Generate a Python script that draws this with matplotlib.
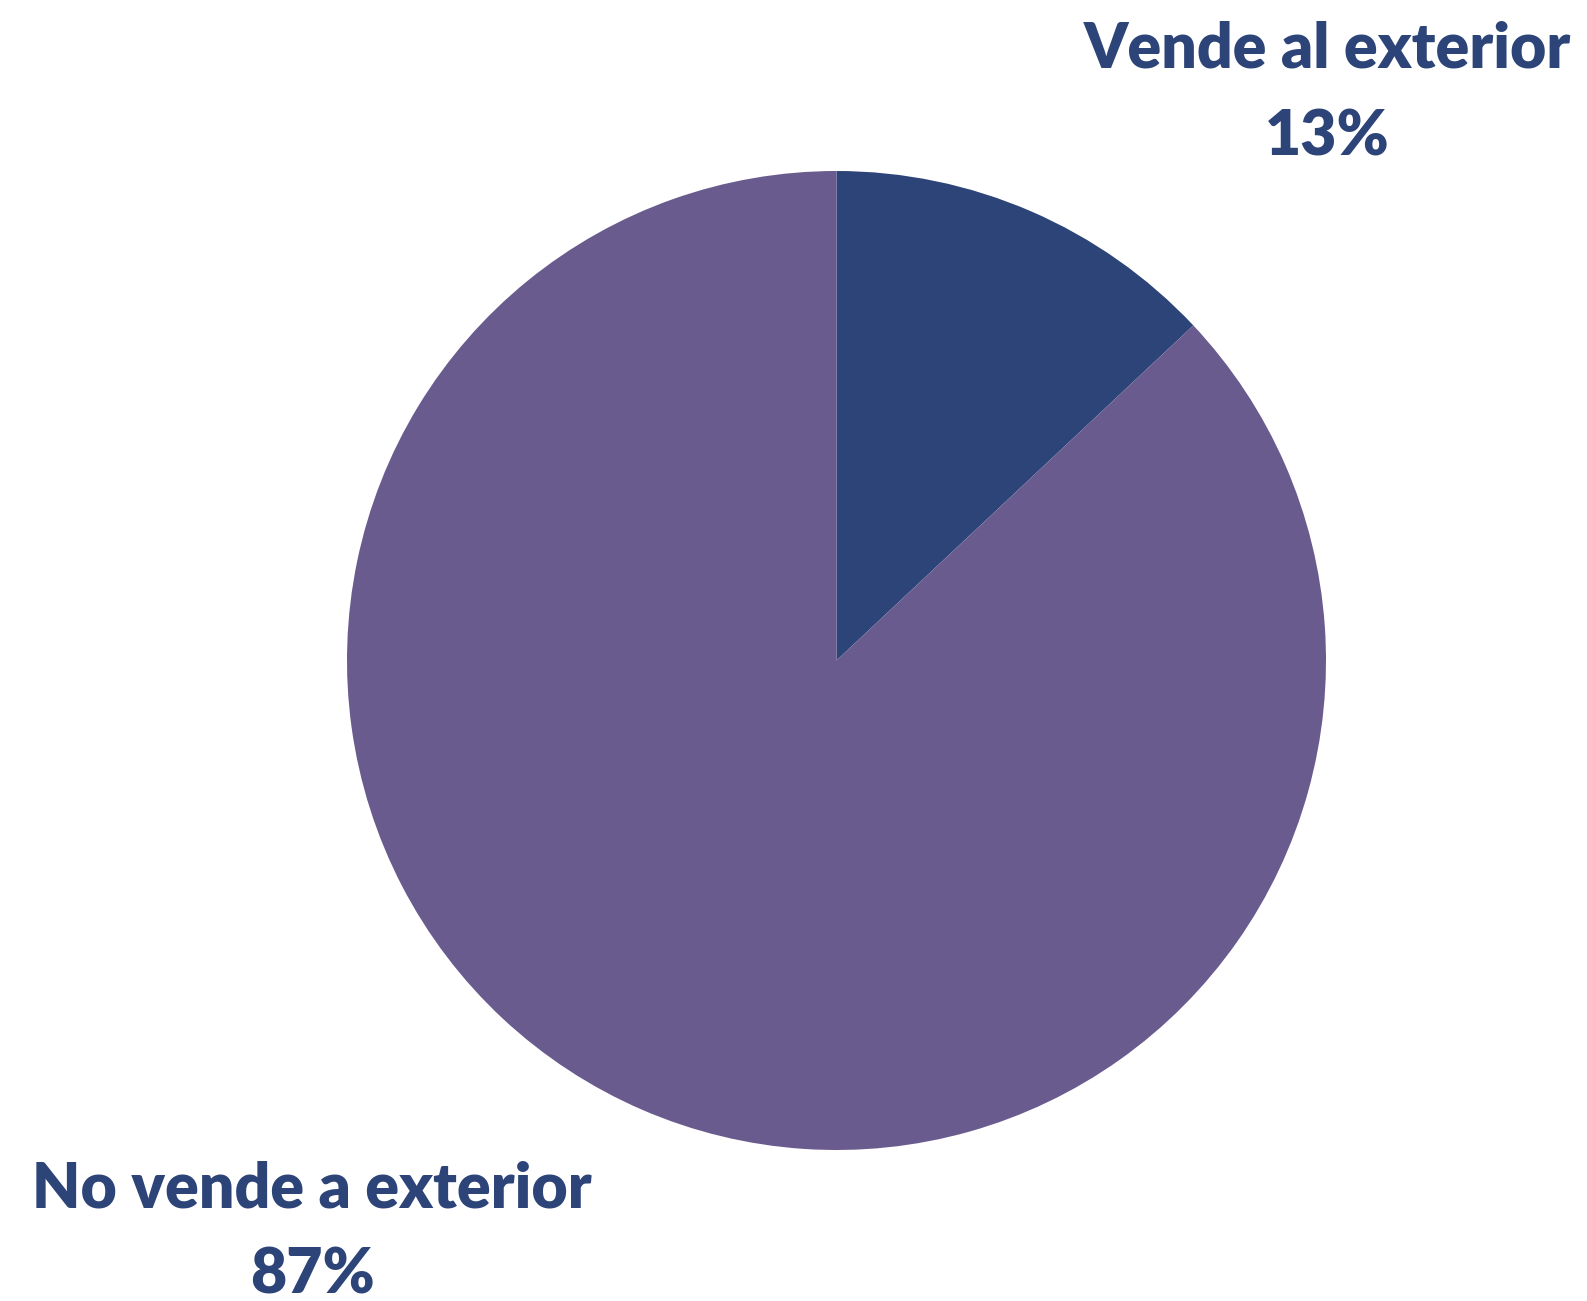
import matplotlib
matplotlib.use("Agg")
import matplotlib.pyplot as plt

labels = ["Vende al exterior", "No vende a exterior"]
values = [13, 87]
colors = ["#2c4478", "#6a5b8f"]
text_color = "#2c4478"

W, H = 1587, 1301
fig = plt.figure(figsize=(W/100, H/100), dpi=100)
ax = fig.add_axes([0, 0, 1, 1])

# pie centre / radius in pixels
cx, cy, r = 836.5, H - 660.5, 489.5
ax.pie(values, colors=colors, startangle=90, counterclock=False,
       center=(cx, cy), radius=r, frame=True,
       wedgeprops=dict(linewidth=0))
ax.set_xlim(0, W)
ax.set_ylim(0, H)
ax.axis("off")

# label positions (x centre, baseline of name, baseline of pct)
pos = [(1327, H - 68, H - 155), (312, H - 1207, H - 1293)]
font = dict(family="Lato", weight="heavy", size=45, color=text_color)
for lab, v, (x, y1, y2) in zip(labels, values, pos):
    ax.text(x, y1, lab, ha="center", va="baseline", **font)
    ax.text(x, y2, f"{v}%", ha="center", va="baseline", **font)

fig.savefig("out.png", dpi=100)
